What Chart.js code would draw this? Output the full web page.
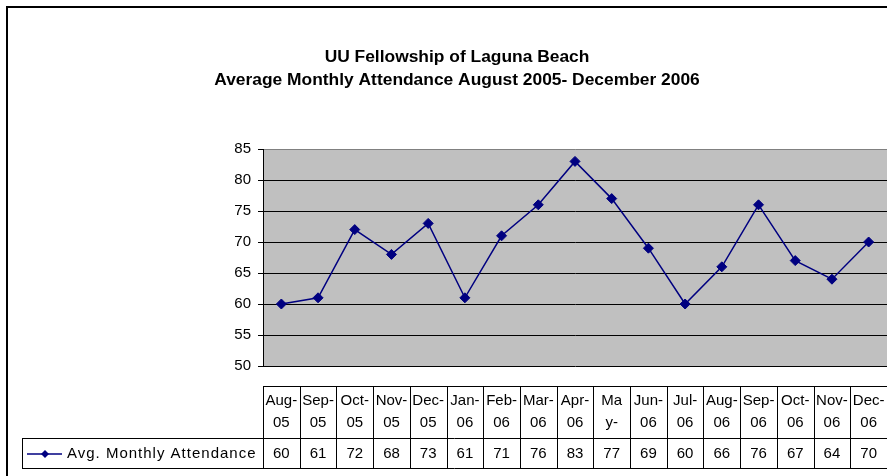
<!DOCTYPE html>
<html>
<head>
<meta charset="utf-8">
<script src="https://cdn.jsdelivr.net/npm/chart.js@4.4.1/dist/chart.umd.min.js"></script>
<style>
    html, body { margin: 0; padding: 0; background: #ffffff; }
    #wrap { width: 887px; height: 476px; }
</style>
</head>
<body>
<div id="wrap"><canvas id="myChart" width="887" height="476"></canvas></div>
<script>
// datos del grafico
var months = ['Aug-05', 'Sep-05', 'Oct-05', 'Nov-05', 'Dec-05', 'Jan-06', 'Feb-06', 'Mar-06', 'Apr-06',
    'May-06', 'Jun-06', 'Jul-06', 'Aug-06', 'Sep-06', 'Oct-06', 'Nov-06', 'Dec-06'];
var headerLine1 = ['Aug-', 'Sep-', 'Oct-', 'Nov-', 'Dec-', 'Jan-', 'Feb-', 'Mar-', 'Apr-',
    'Ma', 'Jun-', 'Jul-', 'Aug-', 'Sep-', 'Oct-', 'Nov-', 'Dec-'];
var headerLine2 = ['05', '05', '05', '05', '05', '06', '06', '06', '06',
    'y-', '06', '06', '06', '06', '06', '06', '06'];
var attendance = [60, 61, 72, 68, 73, 61, 71, 76, 83, 77, 69, 60, 66, 76, 67, 64, 70];
var seriesName = 'Avg. Monthly Attendance';
var titleLines = ['UU Fellowship of Laguna Beach', 'Average Monthly Attendance August 2005- December 2006'];
var yMin = 50, yMax = 85, yStep = 5;

var FONT = "'Liberation Sans', Arial, sans-serif";
var NAVY = '#000080';

// fondo blanco, marco y area gris
var backgroundPlugin = {
    id: 'backgroundPlugin',
    beforeDraw: function (chart) {
        var ctx = chart.ctx, a = chart.chartArea;
        ctx.save();
        ctx.fillStyle = '#ffffff';
        ctx.fillRect(0, 0, chart.width, chart.height);
        ctx.fillStyle = '#c0c0c0';
        ctx.fillRect(a.left, a.top, a.right - a.left, a.bottom - a.top);
        ctx.strokeStyle = '#000000';
        ctx.lineWidth = 2;
        ctx.beginPath();
        ctx.moveTo(7, chart.height);
        ctx.lineTo(7, 7);
        ctx.lineTo(chart.width, 7);
        ctx.stroke();
        ctx.restore();
    }
};

// tabla de datos debajo del grafico
var dataTablePlugin = {
    id: 'dataTablePlugin',
    afterDraw: function (chart) {
        var ctx = chart.ctx;
        var x = chart.scales.x;
        var half = (x.getPixelForValue(1) - x.getPixelForValue(0)) / 2;
        var top = 386, mid = 438, bottom = 468, legendLeft = 22;
        var first = x.getPixelForValue(0) - half;
        var last = x.getPixelForValue(months.length - 1) + half;

        ctx.save();
        ctx.strokeStyle = '#000000';
        ctx.lineWidth = 1;
        ctx.beginPath();
        ctx.moveTo(first, top + 0.5);
        ctx.lineTo(last, top + 0.5);
        ctx.moveTo(legendLeft, mid + 0.5);
        ctx.lineTo(last, mid + 0.5);
        ctx.moveTo(legendLeft, bottom + 0.5);
        ctx.lineTo(last, bottom + 0.5);
        ctx.moveTo(legendLeft + 0.5, mid);
        ctx.lineTo(legendLeft + 0.5, bottom);
        for (var i = 0; i <= months.length; i++) {
            var bx = Math.round(first + i * half * 2) + 0.5;
            ctx.moveTo(bx, top);
            ctx.lineTo(bx, bottom);
        }
        ctx.stroke();

        ctx.fillStyle = '#000000';
        ctx.font = '15px ' + FONT;
        ctx.textAlign = 'center';
        ctx.textBaseline = 'middle';
        for (var j = 0; j < months.length; j++) {
            var cx = x.getPixelForValue(j);
            ctx.fillText(headerLine1[j], cx, 401);
            ctx.fillText(headerLine2[j], cx, 423);
            ctx.fillText(String(attendance[j]), cx, 454);
        }

        // clave de la leyenda
        ctx.strokeStyle = NAVY;
        ctx.lineWidth = 1.5;
        ctx.beginPath();
        ctx.moveTo(27, 454);
        ctx.lineTo(62, 454);
        ctx.stroke();
        ctx.fillStyle = NAVY;
        ctx.beginPath();
        ctx.moveTo(45, 450);
        ctx.lineTo(49, 454);
        ctx.lineTo(45, 458);
        ctx.lineTo(41, 454);
        ctx.closePath();
        ctx.fill();

        ctx.fillStyle = '#000000';
        ctx.textAlign = 'left';
        ctx.font = '15px ' + FONT;
        ctx.letterSpacing = '1px';
        ctx.fillText(seriesName, 67, 454);
        ctx.letterSpacing = '0px';
        ctx.restore();
    }
};

var ctx = document.getElementById('myChart').getContext('2d');
var chart = new Chart(ctx, {
    type: 'line',
    data: {
        labels: months,
        datasets: [{
            label: seriesName,
            data: attendance,
            borderColor: NAVY,
            backgroundColor: NAVY,
            borderWidth: 1.5,
            pointStyle: 'rectRot',
            pointRadius: 5,
            pointBorderWidth: 1,
            pointBackgroundColor: NAVY,
            pointBorderColor: NAVY,
            tension: 0,
            fill: false
        }]
    },
    options: {
        responsive: false,
        animation: false,
        events: [],
        layout: {
            autoPadding: false,
            padding: { left: 27, right: 0, top: 0, bottom: 110 }
        },
        scales: {
            x: {
                type: 'category',
                offset: true,
                display: false
            },
            y: {
                min: yMin,
                max: yMax,
                afterFit: function (scale) { scale.width = 236; },
                ticks: {
                    stepSize: yStep,
                    color: '#000000',
                    padding: 7,
                    font: { family: FONT, size: 15 }
                },
                grid: {
                    color: function (c) { return c.tick && c.tick.value === yMax ? '#808080' : '#000000'; },
                    tickColor: '#000000',
                    tickLength: 5,
                    lineWidth: 1
                },
                border: { display: true, color: '#000000', width: 1 }
            }
        },
        plugins: {
            legend: { display: false },
            tooltip: { enabled: false },
            title: {
                display: true,
                text: titleLines,
                color: '#000000',
                font: { family: FONT, size: 17.4, weight: 'bold', lineHeight: '23px' },
                padding: { top: 46, bottom: 57 }
            }
        }
    },
    plugins: [backgroundPlugin, dataTablePlugin]
});
</script>
</body>
</html>
